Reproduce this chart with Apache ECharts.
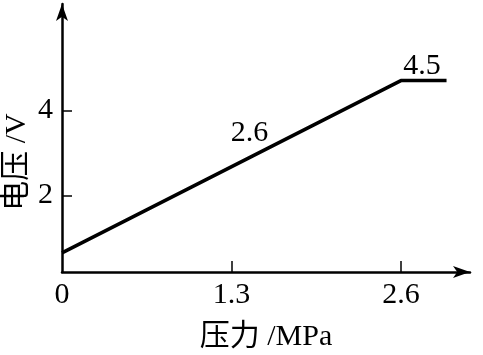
<!DOCTYPE html>
<html>
<head>
<meta charset="utf-8">
<script src="https://cdn.jsdelivr.net/npm/echarts@6/dist/echarts.min.js"></script>
<style>
  html, body { margin: 0; padding: 0; background: #fff; }
  #chart { width: 483px; height: 355px; }
</style>
</head>
<body>
<div id="chart"></div>
<script>
// 压力 (MPa) 与 电压 (V)
var pressure = [0, 2.6, 2.95];
var voltage = [0.65, 4.7, 4.7];
var xTickLabels = [0, 1.3, 2.6];
var yTickLabels = [2, 4];
var notes = ['2.6', '4.5'];

var serif = '"Liberation Serif", "Noto Sans CJK SC", serif';

var chart = echarts.init(document.getElementById('chart'));

var option = {
  animation: false,
  grid: {
    left: 62,
    right: 13,
    top: 4,
    bottom: 83,
    outerBoundsMode: 'none'
  },
  xAxis: {
    type: 'value',
    min: 0,
    max: 3.13,
    name: '压力 /MPa',
    nameLocation: 'middle',
    nameGap: 50,
    nameTextStyle: { color: '#000', fontSize: 30, fontFamily: serif },
    axisLine: {
      lineStyle: { color: '#000', width: 2.5 },
      symbol: ['none', 'arrow'],
      symbolSize: [9, 17]
    },
    axisTick: {
      inside: true,
      length: 11,
      lineStyle: { color: '#000', width: 1.5 },
      customValues: xTickLabels.slice(1)
    },
    axisLabel: {
      color: '#000',
      fontSize: 30,
      fontFamily: serif,
      margin: 8,
      customValues: xTickLabels
    },
    splitLine: { show: false }
  },
  yAxis: {
    type: 'value',
    min: 0.2,
    max: 6.5,
    axisLine: {
      lineStyle: { color: '#000', width: 2.5 },
      symbol: ['none', 'arrow'],
      symbolSize: [9, 17]
    },
    axisTick: {
      inside: true,
      length: 10,
      lineStyle: { color: '#000', width: 1.5 },
      customValues: yTickLabels
    },
    axisLabel: {
      color: '#000',
      fontSize: 30,
      fontFamily: serif,
      margin: 9,
      customValues: yTickLabels
    },
    splitLine: { show: false }
  },
  graphic: [{
    type: 'text',
    x: 17,
    y: 162,
    rotation: Math.PI / 2,
    style: {
      text: '电压 /V',
      fill: '#000',
      fontSize: 30,
      fontFamily: serif,
      align: 'center',
      verticalAlign: 'middle'
    }
  }],
  series: [{
    type: 'line',
    data: pressure.map(function (p, i) { return [p, voltage[i]]; }),
    symbol: 'none',
    lineStyle: { color: '#000', width: 3.5 },
    markPoint: {
      symbol: 'circle',
      symbolSize: 0,
      label: {
        show: true,
        color: '#000',
        fontSize: 30,
        fontFamily: serif
      },
      data: [
        {
          coord: [1.3, (voltage[0] + voltage[1]) / 2],
          label: { formatter: notes[0], offset: [18, -34] }
        },
        {
          coord: [pressure[1], voltage[1]],
          label: { formatter: notes[1], offset: [21, -14] }
        }
      ]
    }
  }]
};

chart.setOption(option);
</script>
</body>
</html>
